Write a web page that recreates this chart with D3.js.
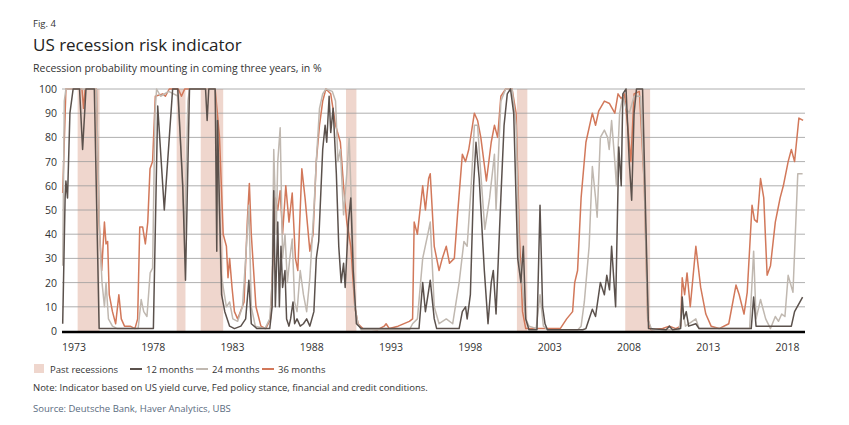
<!DOCTYPE html>
<html><head><meta charset="utf-8">
<script src="https://cdn.jsdelivr.net/npm/d3@7/dist/d3.min.js"></script>
<style>body{margin:0;background:#fff;font-family:"Open Sans",sans-serif;}</style>
</head><body><svg id="c" width="849" height="425"></svg>
<script>
const recessions=[[1973.83,1975.2],[1980.0,1980.55],[1981.5,1982.9],[1990.55,1991.2],[2001.2,2001.85],[2007.95,2009.5]];
const tickYears=[1973,1978,1983,1988,1993,1998,2003,2008,2013,2018];
const yTicks=[0,10,20,30,40,50,60,70,80,90,100];
const s12=[[1972.9,3],[1973.05,55],[1973.1,62],[1973.2,55],[1973.35,90],[1973.55,100],[1973.95,100],[1974.14,75],[1974.35,100],[1974.87,100],[1975.17,1],[1978.55,1],[1978.82,93],[1979.23,50],[1979.75,100],[1980.07,100],[1980.38,60],[1980.55,21],[1980.8,100],[1981.8,100],[1981.9,87],[1982.0,100],[1982.4,100],[1982.5,33],[1982.55,87],[1982.65,57],[1982.8,15],[1983.0,8],[1983.3,2],[1983.6,1],[1984.0,2],[1984.3,5],[1984.5,21],[1984.65,3],[1985.0,1],[1985.8,1],[1985.95,10],[1986.05,58],[1986.15,10],[1986.3,45],[1986.4,10],[1986.5,35],[1986.6,18],[1986.75,25],[1986.85,5],[1987.0,2],[1987.1,5],[1987.25,12],[1987.35,3],[1987.5,5],[1987.7,2],[1987.9,3],[1988.1,5],[1988.3,2],[1988.55,8],[1988.7,30],[1988.85,37],[1989.1,75],[1989.25,85],[1989.35,78],[1989.5,97],[1989.6,82],[1989.75,92],[1989.95,65],[1990.1,35],[1990.25,20],[1990.4,28],[1990.5,18],[1990.7,45],[1990.85,55],[1991.0,25],[1991.2,3],[1991.5,1],[1995.1,1],[1995.33,20],[1995.5,8],[1995.8,21],[1996.05,5],[1996.2,1],[1997.6,1],[1997.8,8],[1998.0,10],[1998.1,5],[1998.3,15],[1998.5,60],[1998.65,78],[1998.85,63],[1999.17,25],[1999.4,3],[1999.6,20],[1999.73,25],[1999.9,7],[2000.2,55],[2000.4,85],[2000.6,98],[2000.8,100],[2001.0,90],[2001.25,30],[2001.45,20],[2001.6,35],[2001.75,5],[2001.95,0.5],[2002.45,0.5],[2002.64,52],[2002.8,10],[2002.95,3],[2003.1,0.5],[2005.3,0.5],[2005.5,1],[2005.9,9],[2006.1,6],[2006.4,20],[2006.65,15],[2006.8,23],[2006.97,17],[2007.1,35],[2007.35,10],[2007.55,76],[2007.7,60],[2007.8,98],[2008.0,100],[2008.2,70],[2008.35,54],[2008.5,90],[2008.65,100],[2009.03,100],[2009.25,40],[2009.4,1],[2010.5,0.5],[2010.7,2],[2010.9,0.5],[2011.4,1],[2011.5,14],[2011.6,5],[2011.75,8],[2011.9,2],[2012.35,3],[2012.55,1],[2015.8,1],[2015.95,14],[2016.1,2],[2018.3,2],[2018.5,8],[2019.0,14]];
const s24=[[1972.9,27],[1973.0,95],[1973.1,100],[1975.0,100],[1975.1,70],[1975.2,40],[1975.35,20],[1975.5,10],[1975.6,20],[1975.75,5],[1976.0,2],[1976.3,1],[1977.6,1],[1977.79,13],[1977.95,8],[1978.15,6],[1978.35,24],[1978.5,26],[1978.65,90],[1978.75,100],[1979.0,97],[1979.5,99],[1980.1,97],[1980.3,70],[1980.5,40],[1980.7,95],[1980.8,100],[1982.4,100],[1982.6,60],[1982.75,25],[1982.9,18],[1983.1,10],[1983.3,12],[1983.5,5],[1983.8,4],[1984.1,10],[1984.3,30],[1984.5,52],[1984.65,10],[1984.9,2],[1985.5,1],[1985.8,5],[1985.95,20],[1986.05,75],[1986.2,40],[1986.3,70],[1986.45,84],[1986.6,30],[1986.75,40],[1986.9,20],[1987.05,30],[1987.2,38],[1987.35,12],[1987.5,8],[1987.7,25],[1987.9,15],[1988.1,8],[1988.3,22],[1988.55,50],[1988.7,70],[1988.9,92],[1989.1,98],[1989.3,100],[1989.7,99],[1989.9,95],[1990.05,70],[1990.2,75],[1990.4,48],[1990.6,65],[1990.75,80],[1990.95,40],[1991.1,10],[1991.3,3],[1991.5,0.5],[1994.5,0.5],[1994.7,3],[1995.0,5],[1995.33,30],[1995.65,40],[1995.8,45],[1996.05,10],[1996.35,3],[1996.8,5],[1997.2,3],[1997.6,20],[1997.9,37],[1998.1,35],[1998.35,60],[1998.55,85],[1998.75,85],[1998.95,65],[1999.2,42],[1999.5,55],[1999.8,73],[1999.9,50],[2000.2,95],[2000.5,100],[2000.9,100],[2001.15,85],[2001.35,30],[2001.55,18],[2001.75,5],[2001.95,2],[2002.4,1],[2002.64,15],[2002.85,2],[2003.1,0.5],[2005.0,0.5],[2005.2,2],[2005.4,12],[2005.7,35],[2005.9,68],[2006.1,55],[2006.2,47],[2006.4,80],[2006.65,83],[2006.85,80],[2006.95,75],[2007.1,87],[2007.3,70],[2007.4,60],[2007.6,90],[2007.8,97],[2008.0,92],[2008.2,90],[2008.5,97],[2008.9,97],[2009.14,60],[2009.35,5],[2009.6,0.5],[2011.3,0.5],[2011.5,10],[2011.7,2],[2012.35,5],[2012.55,1],[2015.7,1],[2015.95,33],[2016.1,5],[2016.38,13],[2016.7,5],[2017.0,1],[2017.3,6],[2017.5,4],[2017.7,7],[2017.9,6],[2018.1,23],[2018.4,16],[2018.7,65],[2019.0,65]];
const s36=[[1972.9,57],[1973.1,100],[1974.1,100],[1974.2,92],[1974.3,100],[1975.0,100],[1975.17,45],[1975.33,25],[1975.5,45],[1975.6,36],[1975.7,37],[1975.8,15],[1976.0,8],[1976.2,3],[1976.4,15],[1976.55,5],[1976.75,2],[1977.1,2],[1977.4,1],[1977.57,5],[1977.7,43],[1977.88,43],[1978.05,36],[1978.2,45],[1978.34,67],[1978.5,70],[1978.67,97],[1979.13,98],[1979.3,97],[1979.54,100],[1980.1,100],[1980.3,97],[1980.5,100],[1982.4,100],[1982.67,80],[1982.9,40],[1983.1,35],[1983.2,22],[1983.3,30],[1983.45,18],[1983.6,8],[1983.8,5],[1984.2,12],[1984.4,45],[1984.53,61],[1984.65,40],[1984.94,10],[1985.25,2],[1985.55,1],[1985.85,5],[1986.0,30],[1986.15,55],[1986.3,50],[1986.45,58],[1986.6,40],[1986.8,60],[1987.0,45],[1987.2,57],[1987.4,30],[1987.55,25],[1987.8,67],[1988.0,55],[1988.3,33],[1988.5,40],[1988.7,70],[1988.9,85],[1989.1,95],[1989.3,100],[1989.6,98],[1989.9,85],[1990.2,78],[1990.4,60],[1990.6,45],[1990.85,35],[1991.1,10],[1991.3,3],[1991.6,1],[1992.5,0.5],[1992.93,2],[1993.05,3],[1993.25,1],[1993.8,2],[1994.5,4],[1994.7,5],[1994.8,45],[1995.0,40],[1995.33,60],[1995.5,50],[1995.7,63],[1995.8,65],[1996.05,35],[1996.35,25],[1996.55,30],[1996.8,35],[1997.0,28],[1997.3,30],[1997.5,48],[1997.8,73],[1998.0,70],[1998.2,75],[1998.55,90],[1998.75,87],[1998.95,80],[1999.3,62],[1999.6,78],[1999.8,85],[2000.0,80],[2000.2,97],[2000.5,100],[2000.9,100],[2001.15,90],[2001.35,40],[2001.55,8],[2001.75,1],[2003.9,1],[2004.3,5],[2004.67,8],[2004.8,20],[2004.98,25],[2005.2,55],[2005.5,78],[2005.9,90],[2006.1,85],[2006.3,91],[2006.65,95],[2006.97,94],[2007.3,90],[2007.5,98],[2007.7,96],[2007.9,98],[2008.1,85],[2008.3,70],[2008.5,98],[2008.83,99],[2009.14,60],[2009.35,5],[2009.55,0.5],[2010.28,1],[2010.7,2],[2011.1,1],[2011.4,2],[2011.5,22],[2011.65,15],[2011.8,24],[2012.0,10],[2012.35,35],[2012.65,18],[2012.97,7],[2013.3,2],[2013.8,1],[2014.4,3],[2014.85,19],[2015.05,15],[2015.35,7],[2015.55,16],[2015.85,52],[2016.0,46],[2016.17,45],[2016.38,63],[2016.58,55],[2016.79,23],[2017.0,27],[2017.3,45],[2017.45,50],[2017.6,55],[2017.8,60],[2018.1,70],[2018.3,75],[2018.5,70],[2018.77,88],[2019.03,87]];

const svg=d3.select("#c");
const x=d3.scaleLinear().domain([1972.9,2019.1]).range([62.7,804.2]);
const y=d3.scaleLinear().domain([0,100]).range([331,89]);
const cDark="#5b514c",cGrey="#c0b8b0",cOr="#d2785a",cShade="#efd6cd";

svg.selectAll("rect.r").data(recessions).join("rect").attr("x",d=>x(d[0])).attr("width",d=>x(d[1])-x(d[0])).attr("y",y(100)).attr("height",y(0)-y(100)).attr("fill",cShade);
svg.selectAll("line.g").data(yTicks.filter(v=>v>0)).join("line").attr("x1",62).attr("x2",805).attr("y1",d=>y(d)).attr("y2",d=>y(d)).attr("stroke","#9a9a9a").attr("stroke-width",0.8);
svg.selectAll("text.yl").data(yTicks).join("text").attr("x",57).attr("y",d=>y(d)+4).attr("text-anchor","end").attr("font-size",10.5).attr("fill","#333").text(d=>d);
const line=d3.line().x(d=>x(d[0])).y(d=>y(d[1]));
[[s36,cOr],[s24,cGrey],[s12,cDark]].forEach(([s,c])=>svg.append("path").attr("d",line(s)).attr("fill","none").attr("stroke",c).attr("stroke-width",1.5).attr("stroke-linejoin","round"));
svg.append("line").attr("x1",62).attr("x2",805).attr("y1",y(0)+1).attr("y2",y(0)+1).attr("stroke","#000").attr("stroke-width",2.5);
svg.selectAll("text.xl").data(tickYears).join("text").attr("x",(d,i)=>x(1973.6+i*5*0.988)).attr("y",351).attr("text-anchor","middle").attr("font-size",10.5).attr("fill","#333").text(d=>d);

const t=(xx,yy,s,sz,c,w)=>svg.append("text").attr("x",xx).attr("y",yy).attr("font-size",sz).attr("fill",c).attr("font-weight",w||400).text(s);
t(33,27,"Fig. 4",9.5,"#333");
t(33,51,"US recession risk indicator",17,"#222");
t(33,72,"Recession probability mounting in coming three years, in %",10.5,"#333");
svg.append("rect").attr("x",34).attr("y",364).attr("width",10).attr("height",9).attr("fill",cShade);
t(50,373,"Past recessions",9.5,"#333");
[[130,cDark,"12 months"],[196,cGrey,"24 months"],[262,cOr,"36 months"]].forEach(([xx,c,s])=>{svg.append("line").attr("x1",xx).attr("x2",xx+12).attr("y1",369).attr("y2",369).attr("stroke",c).attr("stroke-width",2);t(xx+16,373,s,9.5,"#333");});
t(33,391,"Note: Indicator based on US yield curve, Fed policy stance, financial and credit conditions.",9.5,"#333");
t(33,412,"Source: Deutsche Bank, Haver Analytics, UBS",9.5,"#5a6b80");
</script></body></html>
